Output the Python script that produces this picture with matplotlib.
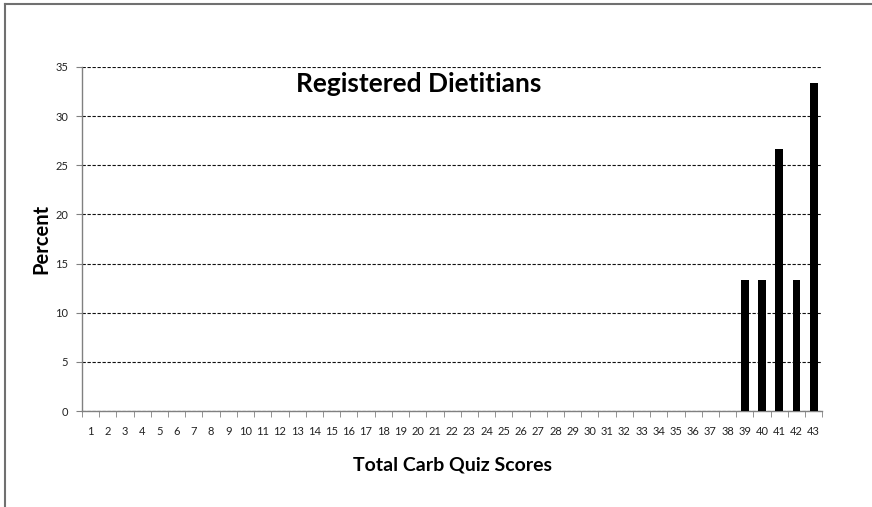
import matplotlib
matplotlib.use("Agg")
import matplotlib.pyplot as plt
from matplotlib.lines import Line2D

# --- DATA ---
scores = list(range(1, 44))
percent = [0] * 38 + [13.33, 13.33, 26.67, 13.33, 33.33]
y_ticks = [0, 5, 10, 15, 20, 25, 30, 35]

plt.rcParams['font.family'] = ['Lato', 'DejaVu Sans']

fig = plt.figure(figsize=(8.72, 5.07), dpi=100)
ax = fig.add_axes([0.094, 0.189, 0.849, 0.679])

# frame round the chart (left and top only)
fig.add_artist(Line2D([0.0063, 0.0063], [0, 0.992], transform=fig.transFigure, color='#707070', lw=1.5))
fig.add_artist(Line2D([0.0063, 1.0], [0.992, 0.992], transform=fig.transFigure, color='#707070', lw=1.5))

ax.bar(scores, percent, width=0.45, color='black', zorder=3)

ax.set_xlim(0.5, 43.5)
ax.set_ylim(0, 35)
ax.set_yticks(y_ticks)
ax.set_xticks(scores)
ax.set_xticks([s + 0.5 for s in [0] + scores], minor=True)
ax.tick_params(axis='x', which='major', length=0, pad=11, labelsize=8, labelcolor='#222222')
ax.tick_params(axis='x', which='minor', length=4, color='#808080', direction='out')
ax.tick_params(axis='y', length=4, color='#808080', labelsize=8, labelcolor='#222222', pad=6)

ax.yaxis.grid(True, color='#111111', linestyle=(0, (3, 1.5)), linewidth=0.8, zorder=0)
for s in ['top', 'right']:
    ax.spines[s].set_visible(False)
for s in ['left', 'bottom']:
    ax.spines[s].set_color('#808080')
    ax.spines[s].set_linewidth(1.0)

ax.text(0.455, 0.95, 'Registered Dietitians', transform=ax.transAxes, ha='center', va='center',
        fontsize=19, fontweight='bold')
ax.set_ylabel('Percent', fontsize=14.5, fontweight='bold', labelpad=3)
ax.set_xlabel('Total Carb Quiz Scores', fontsize=14, fontweight='bold', labelpad=14)

fig.savefig('out.png', dpi=100)
